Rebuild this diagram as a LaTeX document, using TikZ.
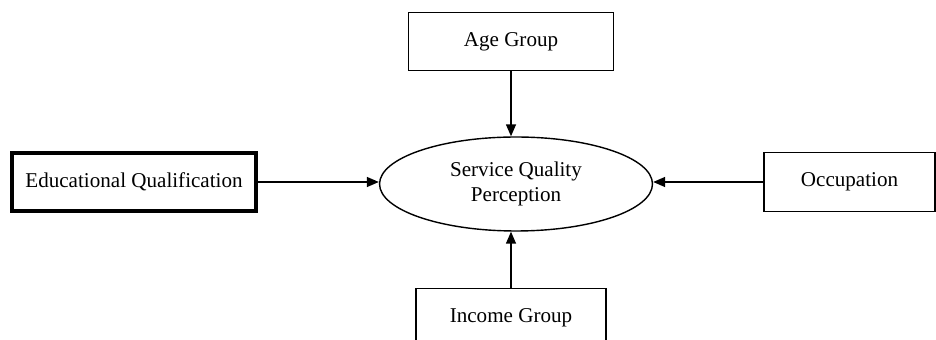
\documentclass[tikz,border=0pt]{standalone}
\usepackage{fontspec}
\setmainfont{Liberation Serif}
\usetikzlibrary{arrows.meta,positioning,shapes.geometric}

\begin{document}
\begin{tikzpicture}[x=.02cm,y=-.02cm,font=\fontsize{12}{14}\selectfont,
 factor/.style={draw,line width=.8pt,inner sep=0pt,minimum height=1.17cm},
 link/.style={line width=.8pt,-{Triangle[length=.24cm,width=.2cm]}}]
\useasboundingbox (0,0) rectangle (936,340);
\node[ellipse,draw,line width=.8pt,inner sep=0pt,minimum width=5.46cm,minimum height=1.88cm,align=center] (sqp) at (516,184) {Service Quality\\Perception};
\node[factor,line width=2.8pt,minimum width=4.88cm,minimum height=1.16cm] (edu) at (134,182) {Educational Qualification};
\node[factor,minimum width=4.1cm] (age) at (511,41.5) {Age Group};
\node[factor,minimum width=3.42cm] (occ) at (849.5,182) {Occupation};
\node[factor,minimum width=3.8cm] (inc) at (511,317.5) {Income Group};
\draw[link] (age.south) -- (sqp.north -| age.south);
\draw[link] (inc.north) -- (sqp.south -| inc.north);
\draw[link] (edu.east) -- (edu.east -| sqp.west);
\draw[link] (occ.west) -- (occ.west -| sqp.east);
\end{tikzpicture}
\end{document}
